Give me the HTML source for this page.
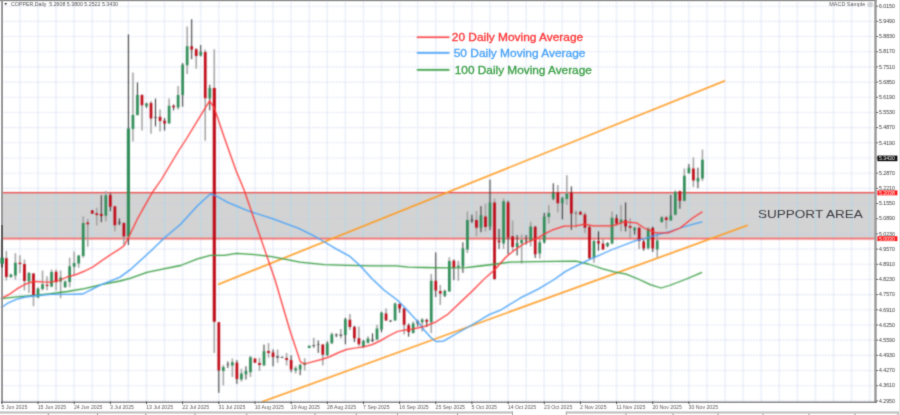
<!DOCTYPE html>
<html><head><meta charset="utf-8"><title>Copper Daily</title>
<style>html,body{margin:0;padding:0;background:#fff;}body{width:900px;height:415px;overflow:hidden;font-family:"Liberation Sans",sans-serif;}svg{display:block}</style>
</head><body>
<svg width="900" height="415" viewBox="0 0 900 415">
<defs><filter id="bl" x="0" y="0" width="900" height="415" filterUnits="userSpaceOnUse" color-interpolation-filters="sRGB"><feConvolveMatrix order="5" kernelMatrix="0.00009 0.00198 0.00548 0.00198 0.00009 0.00198 0.04220 0.11707 0.04220 0.00198 0.00548 0.11707 0.32480 0.11707 0.00548 0.00198 0.04220 0.11707 0.04220 0.00198 0.00009 0.00198 0.00548 0.00198 0.00009" edgeMode="duplicate" preserveAlpha="false"/></filter><filter id="bf" x="0" y="0" width="900" height="415" filterUnits="userSpaceOnUse" color-interpolation-filters="sRGB"><feConvolveMatrix order="5" kernelMatrix="0.00000 0.00003 0.00021 0.00003 0.00000 0.00003 0.01133 0.08373 0.01133 0.00003 0.00021 0.08373 0.61869 0.08373 0.00021 0.00003 0.01133 0.08373 0.01133 0.00003 0.00000 0.00003 0.00021 0.00003 0.00000" edgeMode="duplicate" preserveAlpha="false"/></filter><filter id="bt" x="0" y="0" width="900" height="415" filterUnits="userSpaceOnUse" color-interpolation-filters="sRGB"><feConvolveMatrix order="5" kernelMatrix="0.00000 0.00013 0.00070 0.00013 0.00000 0.00013 0.01910 0.09973 0.01910 0.00013 0.00070 0.09973 0.52080 0.09973 0.00070 0.00013 0.01910 0.09973 0.01910 0.00013 0.00000 0.00013 0.00070 0.00013 0.00000" edgeMode="duplicate" preserveAlpha="false"/></filter></defs>
<rect width="900" height="415" fill="#fff"/>
<g filter="url(#bl)">
<rect x="2" y="192.7" width="873.5" height="45.9" fill="#d3d3d3"/>
<path d="M3 6.20H875 M3 21.38H875 M3 36.56H875 M3 51.74H875 M3 66.92H875 M3 82.10H875 M3 97.28H875 M3 112.46H875 M3 127.64H875 M3 142.82H875 M3 158.00H875 M3 173.18H875 M3 188.36H875 M3 203.54H875 M3 218.72H875 M3 233.90H875 M3 249.08H875 M3 264.26H875 M3 279.44H875 M3 294.62H875 M3 309.80H875 M3 324.98H875 M3 340.16H875 M3 355.34H875 M3 370.52H875 M3 385.70H875 M3 400.88H875" stroke="#bfcae8" stroke-width="1.1" stroke-dasharray="1.5 1.5" fill="none" opacity="0.6"/>
<path d="M19.90 2V402 M37.98 2V402 M56.06 2V402 M74.14 2V402 M92.22 2V402 M110.30 2V402 M128.38 2V402 M146.46 2V402 M164.54 2V402 M182.62 2V402 M200.70 2V402 M218.78 2V402 M236.86 2V402 M254.94 2V402 M273.02 2V402 M291.10 2V402 M309.18 2V402 M327.26 2V402 M345.34 2V402 M363.42 2V402 M381.50 2V402 M399.58 2V402 M417.66 2V402 M435.74 2V402 M453.82 2V402 M471.90 2V402 M489.98 2V402 M508.06 2V402 M526.14 2V402 M544.22 2V402 M562.30 2V402 M580.38 2V402 M598.46 2V402 M616.54 2V402 M634.62 2V402 M652.70 2V402 M670.78 2V402 M688.86 2V402 M706.94 2V402 M725.02 2V402 M743.10 2V402 M761.18 2V402 M779.26 2V402 M797.34 2V402 M815.42 2V402 M833.50 2V402 M851.58 2V402 M869.66 2V402" stroke="#c8d3ee" stroke-width="1.5" stroke-dasharray="1.4 1.0" fill="none" opacity="0.6"/>
<path d="M19.90 193.5V238 M37.98 193.5V238 M56.06 193.5V238 M74.14 193.5V238 M92.22 193.5V238 M110.30 193.5V238 M128.38 193.5V238 M146.46 193.5V238 M164.54 193.5V238 M182.62 193.5V238 M200.70 193.5V238 M218.78 193.5V238 M236.86 193.5V238 M254.94 193.5V238 M273.02 193.5V238 M291.10 193.5V238 M309.18 193.5V238 M327.26 193.5V238 M345.34 193.5V238 M363.42 193.5V238 M381.50 193.5V238 M399.58 193.5V238 M417.66 193.5V238 M435.74 193.5V238 M453.82 193.5V238 M471.90 193.5V238 M489.98 193.5V238 M508.06 193.5V238 M526.14 193.5V238 M544.22 193.5V238 M562.30 193.5V238 M580.38 193.5V238 M598.46 193.5V238 M616.54 193.5V238 M634.62 193.5V238 M652.70 193.5V238 M670.78 193.5V238 M688.86 193.5V238 M706.94 193.5V238 M725.02 193.5V238 M743.10 193.5V238 M761.18 193.5V238 M779.26 193.5V238 M797.34 193.5V238 M815.42 193.5V238 M833.50 193.5V238 M851.58 193.5V238 M869.66 193.5V238" stroke="#b2dae2" stroke-width="1.2" fill="none" opacity="0.7"/>
<path d="M2 192.7H876" stroke="#ee4040" stroke-width="1.3" fill="none"/>
<path d="M2 238.6H876" stroke="#f26a6a" stroke-width="1.9" fill="none"/>
<path d="M218.1 284.5L725 80.7M262.3 401.8L747.7 225.3" stroke="#ff9a1e" stroke-width="1.6" fill="none" stroke-linecap="butt"/>
<path d="M1.85 240.0V267.0 M6.37 251.0V280.5 M10.89 273.8V278.0 M15.41 253.2V279.7 M19.93 255.2V272.9 M24.45 259.4V290.6 M28.97 272.0V293.0 M33.49 272.9V306.2 M38.01 287.3V298.2 M42.53 270.4V290.6 M47.05 276.3V290.3 M51.57 269.5V287.3 M56.09 269.5V290.6 M60.61 270.4V298.2 M65.13 280.5V288.1 M69.65 257.7V287.3 M74.17 251.5V275.4 M78.69 254.9V267.8 M83.21 216.3V257.7 M87.73 218.8V246.7 M96.77 207.8V225.6 M105.81 191.0V221.4 M114.85 206.2V231.5 M123.89 222.2V245.0 M132.93 72.4V141.6 M141.97 94.3V130.6 M151.01 101.1V133.7 M160.05 109.5V131.5 M169.09 98.6V123.5 M178.13 85.9V109.5 M187.17 26.5V74.1 M196.21 47.9V68.7 M205.25 49.6V140.8 M214.29 49.3V353.0 M223.33 365.0V385.5 M232.37 358.6V377.1 M241.41 368.7V381.4 M250.45 355.9V377.1 M259.49 357.8V371.1 M268.53 342.9V357.8 M277.57 349.4V362.7 M286.61 352.9V365.5 M295.65 366.1V373.4 M304.69 358.3V370.4 M313.73 337.8V348.1 M322.77 343.9V365.5 M331.81 332.4V343.9 M340.85 329.0V338.6 M349.89 313.9V330.1 M358.93 326.5V346.0 M367.97 336.2V343.6 M377.01 324.7V340.3 M386.05 308.4V320.8 M395.09 302.6V320.8 M404.13 307.8V334.5 M413.17 321.5V333.4 M422.21 318.2V331.4 M431.25 274.1V333.1 M440.29 284.9V304.9 M449.33 257.2V291.4 M458.37 260.8V280.8 M467.41 211.4V253.1 M476.45 211.0V236.3 M485.49 203.7V231.4 M494.53 198.4V280.1 M503.57 198.4V249.0 M512.61 220.6V250.7 M521.65 234.6V263.4 M530.69 221.8V246.6 M539.73 239.0V258.5 M548.77 204.9V223.5 M557.81 184.9V212.5 M566.85 175.3V204.9 M575.89 210.5V227.8 M584.93 212.2V233.1 M593.97 239.4V262.8 M603.01 238.7V250.0 M612.05 211.4V244.2 M621.09 204.9V231.4 M630.13 218.2V238.0 M639.17 226.6V249.0 M648.21 227.3V249.8 M657.25 233.1V257.6 M666.29 215.9V228.7 M675.33 190.6V215.2 M684.37 168.4V201.4 M693.41 157.3V187.0 M702.45 149.6V181.0" stroke="#a0a0a0" stroke-width="1.5" fill="none"/>
<path d="M92.25 210.0V214.0 M101.29 195.2V222.2 M110.33 193.2V211.2 M119.37 218.5V225.2 M128.41 34.4V245.0 M137.45 82.5V115.4 M146.49 102.8V107.8 M155.53 98.6V126.4 M164.57 118.0V130.6 M173.61 104.5V110.4 M182.65 63.1V106.7 M191.69 19.2V59.2 M200.73 45.0V56.4 M209.77 84.7V110.4 M218.81 322.2V392.8 M227.85 361.4V368.0 M236.89 360.2V383.9 M245.93 366.3V379.5 M254.97 358.6V362.7 M264.01 344.6V365.5 M273.05 349.4V366.3 M282.09 356.5V358.0 M291.13 355.3V372.2 M300.17 364.0V375.2 M309.21 345.7V348.1 M318.25 340.6V352.9 M327.29 341.4V355.9 M336.33 333.6V337.2 M345.37 317.8V344.3 M354.41 325.8V342.1 M363.45 339.9V347.5 M372.49 333.4V342.1 M381.53 311.7V332.3 M390.57 320.0V322.0 M399.61 303.5V312.8 M408.65 323.5V336.7 M417.69 319.8V326.5 M426.73 318.7V327.1 M435.77 252.4V297.0 M444.81 289.8V297.0 M453.85 259.6V280.1 M462.89 242.3V272.9 M471.93 214.6V223.0 M480.97 206.1V232.2 M490.01 179.6V230.2 M499.05 229.0V249.0 M508.09 200.8V254.3 M517.13 235.1V255.5 M526.17 235.1V244.7 M535.21 225.9V258.0 M544.25 212.9V243.5 M553.29 183.3V200.1 M562.33 197.0V219.4 M571.37 186.4V229.8 M580.41 211.0V214.6 M589.45 225.9V259.6 M598.49 231.4V250.7 M607.53 242.3V247.1 M616.57 214.6V225.4 M625.61 202.5V231.4 M634.65 227.3V234.6 M643.69 239.9V250.7 M652.73 226.6V252.0 M661.77 216.6V222.4 M670.81 194.9V220.7 M679.85 190.6V208.7 M688.89 164.1V173.7 M697.93 167.7V188.2" stroke="#2a2a2a" stroke-width="1.0" fill="none"/>
<path d="M0.50 257.7h2.7V263.6h-2.7z M9.54 274.6h2.7V277.1h-2.7z M14.06 262.8h2.7V275.4h-2.7z M27.62 272.9h2.7V281.4h-2.7z M36.66 288.6h2.7V297.4h-2.7z M41.18 284.2h2.7V289.0h-2.7z M50.22 272.0h2.7V286.4h-2.7z M59.26 277.5h2.7V281.4h-2.7z M63.78 281.4h2.7V287.3h-2.7z M68.30 266.2h2.7V281.9h-2.7z M72.82 263.1h2.7V266.7h-2.7z M77.34 255.5h2.7V263.6h-2.7z M81.86 223.0h2.7V256.0h-2.7z M104.46 195.2h2.7V215.8h-2.7z M126.86 128.6h3.1V236.5h-3.1z M131.58 114.9h2.7V128.9h-2.7z M136.10 94.9h2.7V114.9h-2.7z M145.14 103.6h2.7V106.2h-2.7z M167.74 105.7h2.7V123.5h-2.7z M176.78 94.9h2.7V107.5h-2.7z M181.30 64.8h2.7V94.9h-2.7z M185.82 46.2h2.7V65.3h-2.7z M199.38 51.8h2.7V55.5h-2.7z M208.42 87.9h2.7V98.6h-2.7z M221.98 367.0h2.7V371.1h-2.7z M231.02 362.2h2.7V365.5h-2.7z M240.06 373.5h2.7V379.5h-2.7z M244.58 371.1h2.7V374.2h-2.7z M249.10 357.3h2.7V372.3h-2.7z M262.66 351.3h2.7V365.5h-2.7z M294.30 368.3h2.7V370.4h-2.7z M298.82 364.9h2.7V369.5h-2.7z M303.34 362.8h2.7V365.0h-2.7z M307.86 345.7h2.7V348.1h-2.7z M325.94 343.3h2.7V355.3h-2.7z M330.46 334.2h2.7V343.3h-2.7z M344.02 319.3h2.7V335.1h-2.7z M362.10 341.0h2.7V346.9h-2.7z M366.62 338.4h2.7V342.7h-2.7z M375.66 328.6h2.7V339.5h-2.7z M380.18 312.8h2.7V329.5h-2.7z M393.74 303.5h2.7V320.4h-2.7z M411.82 323.5h2.7V333.0h-2.7z M420.86 319.4h2.7V322.3h-2.7z M429.90 280.8h2.7V322.3h-2.7z M443.46 291.0h2.7V295.8h-2.7z M447.98 261.0h2.7V291.4h-2.7z M457.02 265.7h2.7V267.3h-2.7z M461.54 248.3h2.7V266.6h-2.7z M466.06 220.1h2.7V249.5h-2.7z M479.62 215.3h2.7V227.8h-2.7z M488.66 202.5h2.7V226.6h-2.7z M502.22 201.3h2.7V243.5h-2.7z M515.78 243.0h2.7V247.1h-2.7z M520.30 240.0h2.7V243.3h-2.7z M529.34 226.6h2.7V241.1h-2.7z M538.38 242.2h2.7V253.6h-2.7z M542.90 216.5h2.7V242.3h-2.7z M547.42 212.9h2.7V217.0h-2.7z M551.94 192.9h2.7V198.4h-2.7z M560.98 198.4h2.7V203.3h-2.7z M565.50 193.4h2.7V198.9h-2.7z M592.62 241.1h2.7V258.0h-2.7z M606.18 243.0h2.7V245.9h-2.7z M610.70 217.7h2.7V243.5h-2.7z M619.74 219.4h2.7V223.0h-2.7z M633.30 227.8h2.7V230.2h-2.7z M646.86 228.5h2.7V248.3h-2.7z M655.90 240.5h2.7V249.5h-2.7z M660.42 217.6h2.7V221.9h-2.7z M669.46 215.4h2.7V220.2h-2.7z M673.98 191.8h2.7V214.7h-2.7z M683.02 175.7h2.7V200.7h-2.7z M687.54 167.7h2.7V173.0h-2.7z M696.58 178.1h2.7V181.4h-2.7z M701.10 159.8h2.7V178.6h-2.7z" fill="#2e8b57"/>
<path d="M5.02 258.2h2.7V277.1h-2.7z M18.58 262.8h2.7V264.0h-2.7z M23.10 264.0h2.7V281.0h-2.7z M32.14 273.4h2.7V295.7h-2.7z M45.70 284.7h2.7V285.9h-2.7z M54.74 271.7h2.7V282.2h-2.7z M86.38 222.5h2.7V224.2h-2.7z M90.90 210.5h2.7V213.5h-2.7z M95.42 213.2h2.7V215.0h-2.7z M99.94 214.1h2.7V216.0h-2.7z M108.98 194.9h2.7V206.7h-2.7z M113.50 206.2h2.7V225.2h-2.7z M122.54 223.0h2.7V236.5h-2.7z M140.62 94.9h2.7V105.3h-2.7z M149.66 103.1h2.7V118.5h-2.7z M158.70 116.8h2.7V121.0h-2.7z M163.22 120.8h2.7V123.5h-2.7z M172.26 105.7h2.7V107.2h-2.7z M190.34 46.2h2.7V49.6h-2.7z M194.86 49.3h2.7V56.0h-2.7z M203.90 52.1h2.7V98.2h-2.7z M212.74 87.9h3.1V321.7h-3.1z M217.46 322.2h2.7V370.4h-2.7z M235.54 362.7h2.7V379.0h-2.7z M253.62 358.6h2.7V362.7h-2.7z M258.14 363.1h2.7V365.1h-2.7z M267.18 351.1h2.7V353.0h-2.7z M271.70 352.5h2.7V357.1h-2.7z M285.26 358.0h2.7V359.9h-2.7z M289.78 359.9h2.7V369.5h-2.7z M321.42 344.5h2.7V354.7h-2.7z M348.54 319.7h2.7V326.9h-2.7z M353.06 326.9h2.7V338.2h-2.7z M357.58 338.2h2.7V344.3h-2.7z M384.70 313.4h2.7V320.4h-2.7z M398.26 304.1h2.7V308.4h-2.7z M402.78 308.4h2.7V324.7h-2.7z M407.30 325.3h2.7V332.1h-2.7z M425.38 319.9h2.7V321.8h-2.7z M434.42 280.8h2.7V290.5h-2.7z M438.94 291.0h2.7V293.4h-2.7z M452.50 260.8h2.7V268.1h-2.7z M475.10 219.9h2.7V227.8h-2.7z M484.14 216.5h2.7V227.1h-2.7z M493.18 202.5h2.7V278.9h-2.7z M497.70 240.6h2.7V242.3h-2.7z M506.74 202.5h2.7V237.5h-2.7z M511.26 236.3h2.7V247.1h-2.7z M533.86 227.1h2.7V254.3h-2.7z M556.46 192.2h2.7V203.3h-2.7z M570.02 192.9h2.7V213.4h-2.7z M579.06 212.2h2.7V214.6h-2.7z M583.58 214.6h2.7V227.8h-2.7z M588.10 227.3h2.7V258.0h-2.7z M597.14 241.1h2.7V243.5h-2.7z M601.66 243.5h2.7V249.5h-2.7z M615.22 218.2h2.7V223.5h-2.7z M624.26 220.1h2.7V226.6h-2.7z M628.78 226.1h2.7V227.8h-2.7z M637.82 227.8h2.7V241.0h-2.7z M642.34 241.5h2.7V248.5h-2.7z M651.38 228.0h2.7V248.5h-2.7z M664.94 217.6h2.7V220.0h-2.7z M678.50 191.3h2.7V200.7h-2.7z M692.06 168.4h2.7V180.5h-2.7z" fill="#bd0815"/>
<path d="M118.02 221.9h2.7V223.2h-2.7z M154.18 117.0h2.7V118.0h-2.7z M226.50 364.2h2.7V365.1h-2.7z M276.22 355.9h2.7V357.8h-2.7z M280.74 357.0h2.7V357.9h-2.7z M312.38 345.0h2.7V346.3h-2.7z M316.90 344.2h2.7V345.1h-2.7z M334.98 334.3h2.7V335.2h-2.7z M339.50 334.5h2.7V336.0h-2.7z M371.14 339.5h2.7V341.0h-2.7z M389.22 320.6h2.7V321.5h-2.7z M416.34 321.0h2.7V323.5h-2.7z M470.58 219.6h2.7V221.0h-2.7z M524.82 240.5h2.7V241.5h-2.7z M574.54 212.7h2.7V213.6h-2.7z" fill="#555"/>
<path d="M1.4 298.6 L16.9 296.9 L33.8 295.4 L50.6 293.7 L67.5 291.5 L84.4 288.6 L101.3 284.7 L120.0 281.0 L130.0 278.3 L146.9 272.3 L163.7 268.9 L180.6 265.5 L197.5 258.8 L210.3 255.4 L224.5 255.4 L236.3 253.4 L254.8 254.7 L271.7 256.7 L288.6 259.8 L300.0 262.2 L312.0 263.4 L324.1 264.6 L348.2 265.3 L372.3 265.8 L396.4 265.8 L408.4 267.2 L424.0 267.5 L448.0 267.8 L466.0 267.6 L480.0 266.0 L496.0 264.0 L510.0 262.2 L536.0 261.6 L576.0 261.1 L588.2 264.0 L596.0 266.5 L602.0 268.7 L614.1 271.8 L626.1 274.2 L638.2 279.0 L650.2 284.6 L661.1 288.0 L669.5 285.5 L686.4 279.0 L702.0 272.3" stroke="#3a9f45" stroke-width="1.3" fill="none" stroke-linejoin="round"/>
<path d="M1.4 307.5 L8.4 302.8 L16.9 299.1 L25.3 297.0 L33.8 296.0 L50.6 294.3 L67.5 294.3 L82.7 294.0 L92.8 288.9 L101.3 284.7 L109.7 281.4 L120.0 277.1 L130.0 269.9 L151.9 250.0 L163.7 238.5 L180.6 224.3 L197.5 205.8 L210.3 194.0 L214.3 195.0 L227.8 202.4 L248.1 210.9 L271.7 218.3 L298.7 228.4 L312.0 234.9 L324.1 241.7 L336.1 248.9 L349.4 256.1 L360.2 265.8 L372.3 279.0 L384.3 290.2 L397.5 300.2 L405.9 308.7 L417.7 321.6 L424.1 330.0 L431.3 338.0 L436.1 341.6 L443.4 341.1 L455.4 334.3 L472.3 324.7 L489.2 314.6 L501.2 309.8 L520.0 298.2 L538.6 288.9 L553.8 279.7 L565.6 271.4 L582.4 262.8 L588.2 260.2 L612.3 249.5 L636.4 240.4 L644.1 238.8 L656.1 235.2 L668.2 232.0 L680.2 228.0 L692.3 224.3 L702.4 221.9" stroke="#4aa3f7" stroke-width="1.3" fill="none" stroke-linejoin="round"/>
<path d="M1.4 298.2 L8.4 294.9 L16.9 288.9 L25.3 284.2 L33.8 281.4 L42.2 281.9 L50.6 282.2 L59.1 280.5 L67.5 276.8 L75.9 274.6 L84.4 271.2 L92.8 267.0 L101.3 261.1 L109.7 255.2 L118.1 250.0 L124.0 245.8 L128.2 238.2 L137.5 218.8 L146.0 203.6 L152.7 191.8 L161.1 180.0 L179.1 150.0 L185.7 140.0 L209.6 100.8 L214.3 108.0 L224.1 137.0 L236.1 170.7 L244.1 190.0 L275.1 280.0 L289.8 330.0 L300.4 361.9 L304.3 364.0 L321.7 359.4 L330.0 356.6 L338.4 352.6 L346.9 349.3 L355.3 348.0 L363.7 346.8 L372.2 344.6 L380.6 340.6 L389.0 335.8 L397.5 331.5 L405.9 329.9 L412.0 329.2 L424.1 326.6 L436.1 321.8 L448.2 313.9 L460.2 302.5 L472.3 291.0 L484.3 278.9 L494.5 270.0 L498.0 266.0 L506.0 257.0 L514.0 250.5 L524.3 243.5 L536.4 238.7 L546.0 233.1 L552.0 230.2 L564.1 226.1 L576.1 225.9 L584.6 224.2 L593.0 225.9 L612.3 225.9 L624.3 221.8 L636.4 222.8 L644.1 228.0 L656.1 232.8 L668.2 232.8 L680.2 228.0 L692.3 218.3 L702.4 211.8" stroke="#ff3636" stroke-width="1.25" fill="none" stroke-linejoin="round"/>
<path d="M416.8 37.3H449.5" stroke="#ff3636" stroke-width="1.4"/>
<path d="M416.8 52.9H449.5" stroke="#4aa3f7" stroke-width="1.6"/>
<path d="M416.8 69.9H449.5" stroke="#3a9f45" stroke-width="1.6"/>
</g><g filter="url(#bf)">
<rect x="0" y="0" width="876.8" height="1.2" fill="#8a8a8a"/>
<rect x="1.1" y="0" width="1.9" height="403" fill="#959595"/>
<rect x="874.3" y="0" width="2.4" height="403" fill="#9a9a9a"/>
<rect x="1.1" y="401.6" width="875.6" height="1.2" fill="#707070"/>
<path d="M2.05 225V267.6" stroke="#4a4a4a" stroke-width="1.5"/>
<rect x="1.05" y="257.7" width="2.7" height="6" fill="#2e8b57"/>
<rect x="0" y="411.4" width="512.5" height="2.2" fill="#c0c0c0"/>
<rect x="566.3" y="411.4" width="333.7" height="2.2" fill="#c0c0c0"/>
<path d="M512.5 411.4V415M566.3 411.4V415" stroke="#a8a8a8" stroke-width="1"/>
<rect x="899" y="0" width="1" height="415" fill="#e6e6e6"/>
<path d="M1.85 401.5v2.6 M38.01 401.5v2.6 M74.17 401.5v2.6 M110.33 401.5v2.6 M146.49 401.5v2.6 M182.65 401.5v2.6 M218.81 401.5v2.6 M254.97 401.5v2.6 M291.13 401.5v2.6 M327.29 401.5v2.6 M363.45 401.5v2.6 M399.61 401.5v2.6 M435.77 401.5v2.6 M471.93 401.5v2.6 M508.09 401.5v2.6 M544.25 401.5v2.6 M580.41 401.5v2.6 M616.57 401.5v2.6 M652.73 401.5v2.6 M688.89 401.5v2.6" stroke="#555" stroke-width="1"/>
<path d="M876 6.20h2.2 M876 21.38h2.2 M876 36.56h2.2 M876 51.74h2.2 M876 66.92h2.2 M876 82.10h2.2 M876 97.28h2.2 M876 112.46h2.2 M876 127.64h2.2 M876 142.82h2.2 M876 158.00h2.2 M876 173.18h2.2 M876 188.36h2.2 M876 203.54h2.2 M876 218.72h2.2 M876 233.90h2.2 M876 249.08h2.2 M876 264.26h2.2 M876 279.44h2.2 M876 294.62h2.2 M876 309.80h2.2 M876 324.98h2.2 M876 340.16h2.2 M876 355.34h2.2 M876 370.52h2.2 M876 385.70h2.2 M876 400.88h2.2" stroke="#666" stroke-width="0.9"/>
<path d="M48.3 413.6v1.4 M97.5 413.6v1.4 M145.8 413.6v1.4 M195 413.6v1.4 M246.8 413.6v1.4 M315 413.6v1.4 M356.3 413.6v1.4 M397.5 413.6v1.4 M457.5 413.6v1.4 M626 413.6v1.4 M673 413.6v1.4 M718 413.6v1.4 M763 413.6v1.4 M809 413.6v1.4 M855 413.6v1.4 M898 413.6v1.4" stroke="#888" stroke-width="0.9"/>
<rect x="877.4" y="190.4" width="20" height="4.9" fill="#ff1a1a"/>
<rect x="877.4" y="236.2" width="20" height="4.9" fill="#ff1a1a"/>
<rect x="877.4" y="155.6" width="20" height="5.6" fill="#111"/>
</g>
<g filter="url(#bt)" font-family="Liberation Sans, sans-serif">
<text x="879" y="7.9" font-size="5.1" fill="#333" textLength="15.8" lengthAdjust="spacingAndGlyphs">6.0150</text>
<text x="879" y="23.1" font-size="5.1" fill="#333" textLength="15.8" lengthAdjust="spacingAndGlyphs">5.9490</text>
<text x="879" y="38.3" font-size="5.1" fill="#333" textLength="15.8" lengthAdjust="spacingAndGlyphs">5.8830</text>
<text x="879" y="53.4" font-size="5.1" fill="#333" textLength="15.8" lengthAdjust="spacingAndGlyphs">5.8170</text>
<text x="879" y="68.6" font-size="5.1" fill="#333" textLength="15.8" lengthAdjust="spacingAndGlyphs">5.7510</text>
<text x="879" y="83.8" font-size="5.1" fill="#333" textLength="15.8" lengthAdjust="spacingAndGlyphs">5.6850</text>
<text x="879" y="99.0" font-size="5.1" fill="#333" textLength="15.8" lengthAdjust="spacingAndGlyphs">5.6190</text>
<text x="879" y="114.2" font-size="5.1" fill="#333" textLength="15.8" lengthAdjust="spacingAndGlyphs">5.5530</text>
<text x="879" y="129.3" font-size="5.1" fill="#333" textLength="15.8" lengthAdjust="spacingAndGlyphs">5.4870</text>
<text x="879" y="144.5" font-size="5.1" fill="#333" textLength="15.8" lengthAdjust="spacingAndGlyphs">5.4190</text>
<text x="879" y="174.9" font-size="5.1" fill="#333" textLength="15.8" lengthAdjust="spacingAndGlyphs">5.2870</text>
<text x="879" y="190.1" font-size="5.1" fill="#333" textLength="15.8" lengthAdjust="spacingAndGlyphs">5.2210</text>
<text x="879" y="205.2" font-size="5.1" fill="#333" textLength="15.8" lengthAdjust="spacingAndGlyphs">5.1550</text>
<text x="879" y="220.4" font-size="5.1" fill="#333" textLength="15.8" lengthAdjust="spacingAndGlyphs">5.0890</text>
<text x="879" y="235.6" font-size="5.1" fill="#333" textLength="15.8" lengthAdjust="spacingAndGlyphs">5.0230</text>
<text x="879" y="250.8" font-size="5.1" fill="#333" textLength="15.8" lengthAdjust="spacingAndGlyphs">4.9570</text>
<text x="879" y="266.0" font-size="5.1" fill="#333" textLength="15.8" lengthAdjust="spacingAndGlyphs">4.8910</text>
<text x="879" y="281.1" font-size="5.1" fill="#333" textLength="15.8" lengthAdjust="spacingAndGlyphs">4.8230</text>
<text x="879" y="296.3" font-size="5.1" fill="#333" textLength="15.8" lengthAdjust="spacingAndGlyphs">4.7570</text>
<text x="879" y="311.5" font-size="5.1" fill="#333" textLength="15.8" lengthAdjust="spacingAndGlyphs">4.6910</text>
<text x="879" y="326.7" font-size="5.1" fill="#333" textLength="15.8" lengthAdjust="spacingAndGlyphs">4.6250</text>
<text x="879" y="341.9" font-size="5.1" fill="#333" textLength="15.8" lengthAdjust="spacingAndGlyphs">4.5590</text>
<text x="879" y="357.0" font-size="5.1" fill="#333" textLength="15.8" lengthAdjust="spacingAndGlyphs">4.4930</text>
<text x="879" y="372.2" font-size="5.1" fill="#333" textLength="15.8" lengthAdjust="spacingAndGlyphs">4.4270</text>
<text x="879" y="387.4" font-size="5.1" fill="#333" textLength="15.8" lengthAdjust="spacingAndGlyphs">4.3610</text>
<text x="879" y="402.6" font-size="5.1" fill="#333" textLength="15.8" lengthAdjust="spacingAndGlyphs">4.2950</text>
<text x="879" y="160.3" font-size="5.4" fill="#fff" textLength="15.8" lengthAdjust="spacingAndGlyphs">5.3430</text>
<text x="879" y="194.7" font-size="5.2" fill="#fff" textLength="15.8" lengthAdjust="spacingAndGlyphs">5.2038</text>
<text x="879" y="240.5" font-size="5.2" fill="#fff" textLength="15.8" lengthAdjust="spacingAndGlyphs">5.0030</text>
<text x="1.6" y="409" font-size="5.2" fill="#5a5a5a">5 Jun 2025</text>
<text x="37.7" y="409" font-size="5.2" fill="#5a5a5a">15 Jun 2025</text>
<text x="73.9" y="409" font-size="5.2" fill="#5a5a5a">24 Jun 2025</text>
<text x="110.0" y="409" font-size="5.2" fill="#5a5a5a">3 Jul 2025</text>
<text x="146.2" y="409" font-size="5.2" fill="#5a5a5a">13 Jul 2025</text>
<text x="182.3" y="409" font-size="5.2" fill="#5a5a5a">22 Jul 2025</text>
<text x="218.5" y="409" font-size="5.2" fill="#5a5a5a">31 Jul 2025</text>
<text x="254.7" y="409" font-size="5.2" fill="#5a5a5a">10 Aug 2025</text>
<text x="290.8" y="409" font-size="5.2" fill="#5a5a5a">19 Aug 2025</text>
<text x="327.0" y="409" font-size="5.2" fill="#5a5a5a">28 Aug 2025</text>
<text x="363.1" y="409" font-size="5.2" fill="#5a5a5a">7 Sep 2025</text>
<text x="399.3" y="409" font-size="5.2" fill="#5a5a5a">16 Sep 2025</text>
<text x="435.5" y="409" font-size="5.2" fill="#5a5a5a">25 Sep 2025</text>
<text x="471.6" y="409" font-size="5.2" fill="#5a5a5a">5 Oct 2025</text>
<text x="507.8" y="409" font-size="5.2" fill="#5a5a5a">14 Oct 2025</text>
<text x="544.0" y="409" font-size="5.2" fill="#5a5a5a">23 Oct 2025</text>
<text x="580.1" y="409" font-size="5.2" fill="#5a5a5a">2 Nov 2025</text>
<text x="616.3" y="409" font-size="5.2" fill="#5a5a5a">11 Nov 2025</text>
<text x="652.4" y="409" font-size="5.2" fill="#5a5a5a">20 Nov 2025</text>
<text x="688.6" y="409" font-size="5.2" fill="#5a5a5a">30 Nov 2025</text>
<path d="M4.4 2.9h2.6l-1.3 2.4z" fill="#333"/>
<text x="11" y="5.9" font-size="5.2" fill="#505050" textLength="107" lengthAdjust="spacingAndGlyphs" xml:space="preserve">COPPER,Daily  5.2608 5.3800 5.2522 5.3430</text>
<text x="829.3" y="6.4" font-size="5.4" fill="#555" textLength="36" lengthAdjust="spacingAndGlyphs">MACD Sample</text>
<circle cx="870.2" cy="4.5" r="2.8" fill="#cfd2d6"/>
<text x="451.8" y="41" font-size="10.5" fill="#ff3636" stroke="#ff3636" stroke-width="0.3" textLength="131.4" lengthAdjust="spacingAndGlyphs">20 Daily Moving Average</text>
<text x="453.7" y="56.6" font-size="10.5" fill="#4aa3f7" stroke="#4aa3f7" stroke-width="0.3" textLength="131.8" lengthAdjust="spacingAndGlyphs">50 Daily Moving Average</text>
<text x="454.8" y="73.7" font-size="10.5" fill="#3a9f45" stroke="#3a9f45" stroke-width="0.3" textLength="137" lengthAdjust="spacingAndGlyphs">100 Daily Moving Average</text>
<text x="757.9" y="218.3" font-size="11.4" fill="#3b3b42" textLength="105" lengthAdjust="spacingAndGlyphs">SUPPORT AREA</text>
</g>
</svg>
</body></html>
